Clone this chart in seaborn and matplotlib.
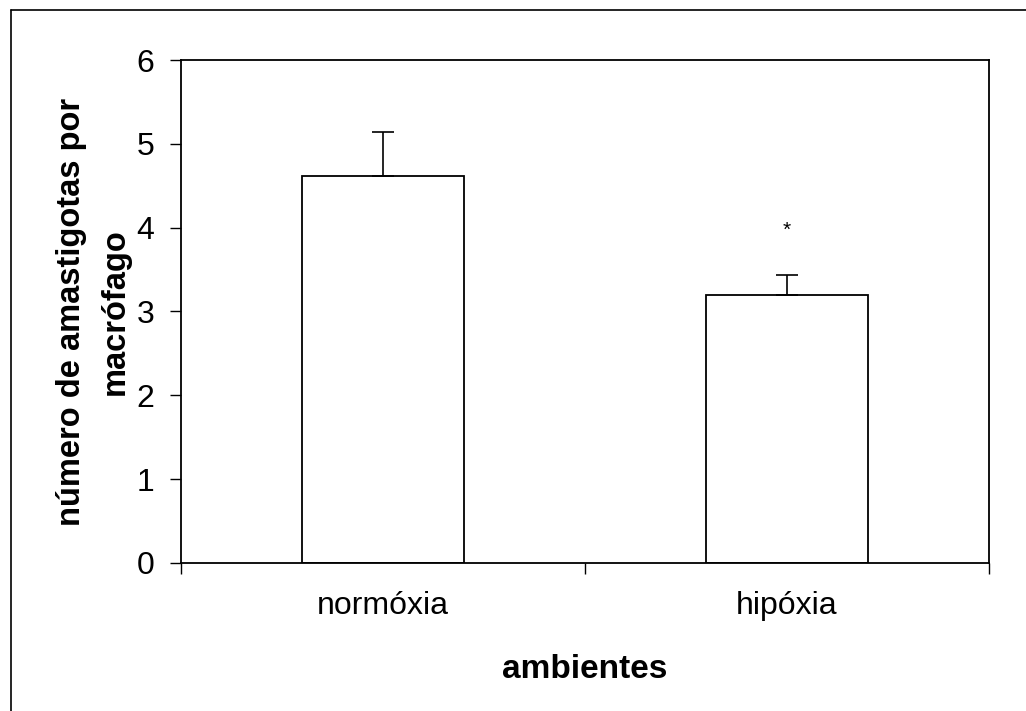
import matplotlib
matplotlib.use("Agg")
import matplotlib.pyplot as plt
from matplotlib.lines import Line2D
import seaborn as sns
import pandas as pd
import numpy as np

# Mean number of amastigotes per macrophage and upper error (SEM)
categories = ["normóxia", "hipóxia"]
means = [4.62, 3.20]
errors = [0.52, 0.23]
significance = ["", "*"]

sns.set_theme(style="white")
plt.rcParams["font.family"] = ["Liberation Sans", "DejaVu Sans"]
plt.rcParams["text.color"] = "black"
plt.rcParams["axes.labelcolor"] = "black"
plt.rcParams["xtick.color"] = "black"
plt.rcParams["ytick.color"] = "black"

df = pd.DataFrame({"ambiente": categories, "media": means})

fig = plt.figure(figsize=(10.26, 7.11), dpi=100)
ax = fig.add_axes([0.1764, 0.2082, 0.7876, 0.7074])

sns.barplot(data=df, x="ambiente", y="media", ax=ax, width=0.4,
            color="white", edgecolor="black", linewidth=1.3, errorbar=None)

# upper-only error bars
xpos = np.arange(len(categories))
ax.errorbar(xpos, means, yerr=[np.zeros(len(means)), errors], fmt="none",
            ecolor="black", elinewidth=1.2, capsize=8, capthick=1.2)

for x, m, e, s in zip(xpos, means, errors, significance):
    if s:
        ax.text(x, 3.85, s, ha="center", va="bottom", fontsize=15, color="black")

ax.set_ylim(0, 6)
ax.set_xlim(-0.5, len(categories) - 0.5)
ax.set_yticks(range(0, 7))
ax.tick_params(axis="y", which="major", direction="out", length=8, width=1,
               labelsize=23, left=True, pad=11, color="black", labelcolor="black")
ax.set_xticks(xpos)
ax.set_xticklabels(categories)
ax.tick_params(axis="x", which="major", length=0, labelsize=23, pad=20,
               labelcolor="black")
ax.set_xticks([-0.5, 0.5, 1.5], minor=True)
ax.tick_params(axis="x", which="minor", direction="out", length=8, width=1,
               bottom=True, color="black")

for sp in ax.spines.values():
    sp.set_visible(True)
    sp.set_color("black")
    sp.set_linewidth(1.3)

ax.set_xlabel("ambientes", fontsize=24, fontweight="bold", labelpad=24,
              color="black")
ax.set_ylabel("número de amastigotas por\nmacrófago", fontsize=23.5,
              fontweight="bold", labelpad=4, linespacing=1.55, color="black")

# outer frame
fig.add_artist(Line2D([0.0107, 1.0], [0.986, 0.986], color="black", lw=1.2,
                      transform=fig.transFigure))
fig.add_artist(Line2D([0.0107, 0.0107], [0.0, 0.986], color="black", lw=1.2,
                      transform=fig.transFigure))

fig.savefig("out.png", dpi=100)
